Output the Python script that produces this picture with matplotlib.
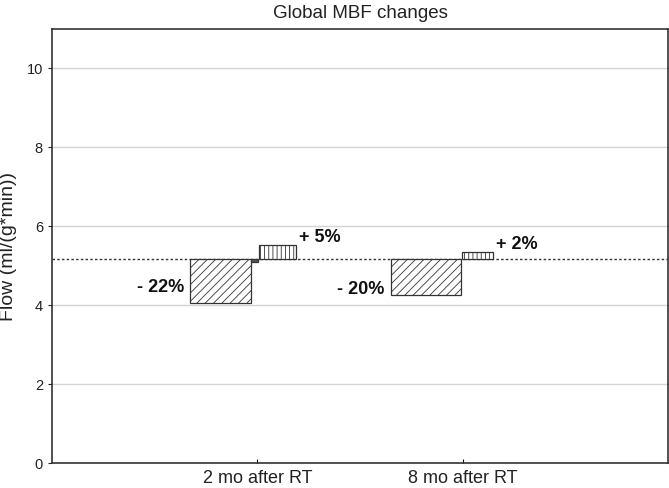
import matplotlib
matplotlib.use("Agg")
import matplotlib.pyplot as plt

plt.rcParams["font.family"] = ["Liberation Sans", "DejaVu Sans"]
plt.rcParams["hatch.linewidth"] = 0.6

# datos
grupos = ["2 mo after RT", "8 mo after RT"]
basal = 5.16
descenso = [4.06, 4.27]
aumento = [5.52, 5.34]
residuo = [5.09, None]  # barra minima junto a 2 mo
etiq_desc = ["- 22%", "- 20%"]
etiq_aum = ["+ 5%", "+ 2%"]
y_etiq_desc = [4.44, 4.40]

# geometria de las barras (offsets respecto al centro de cada grupo)
LAYOUT = [
    {"desc": (-0.328, -0.031), "res": (-0.031, 0.003), "aum": (0.008, 0.188)},
    {"desc": (-0.349, -0.008), "res": None, "aum": (-0.003, 0.148)},
]
EDGE = "#333333"

fig = plt.figure(figsize=(6.69, 4.88), dpi=100)
ax = fig.add_axes([0.0777, 0.0512, 0.9208, 0.8894])

for i, g in enumerate(grupos):
    x = i + 1
    lay = LAYOUT[i]
    a, b = lay["desc"]
    ax.bar(x + a, descenso[i] - basal, width=b - a, bottom=basal, align="edge",
           facecolor="white", edgecolor=EDGE, hatch="////", linewidth=0.9, zorder=3)
    if lay["res"] is not None and residuo[i] is not None:
        a2, b2 = lay["res"]
        ax.bar(x + a2, residuo[i] - basal, width=b2 - a2, bottom=basal, align="edge",
               facecolor="#555555", edgecolor=EDGE, linewidth=0.9, zorder=3)
    a3, b3 = lay["aum"]
    ax.bar(x + a3, aumento[i] - basal, width=b3 - a3, bottom=basal, align="edge",
           facecolor="white", edgecolor=EDGE, hatch="||||", linewidth=0.9, zorder=3)
    ax.text(x + a - 0.03, y_etiq_desc[i], etiq_desc[i],
            ha="right", va="center", fontsize=13, fontweight="bold", color="#111111")
    ax.text(x + b3 + 0.015, aumento[i] + 0.2, etiq_aum[i],
            ha="left", va="center", fontsize=13, fontweight="bold", color="#111111")

ax.axhline(basal, color="#333333", linestyle=(0, (1.8, 1.6)), linewidth=1.0, zorder=2)

ax.set_xlim(0, 3)
ax.set_ylim(0, 11)
ax.set_xticks([1, 2])
ax.set_xticklabels(grupos, fontsize=13, color="#222222")
ax.set_yticks([0, 2, 4, 6, 8, 10])
ax.tick_params(axis="y", labelsize=10.5, colors="#222222", length=3, right=True, direction="out")
ax.tick_params(axis="x", length=3, direction="in", pad=5)
ax.yaxis.grid(True, color="#d4d4d4", linewidth=1.0, zorder=0)
ax.set_axisbelow(True)
for s in ax.spines.values():
    s.set_color("#333333")
    s.set_linewidth(1.2)

ax.set_ylabel("Flow (ml/(g*min))", fontsize=14, color="#222222", labelpad=7)
ax.set_title("Global MBF changes", fontsize=13.5, color="#222222", pad=8)

fig.savefig("out.png", dpi=100, facecolor="white")
